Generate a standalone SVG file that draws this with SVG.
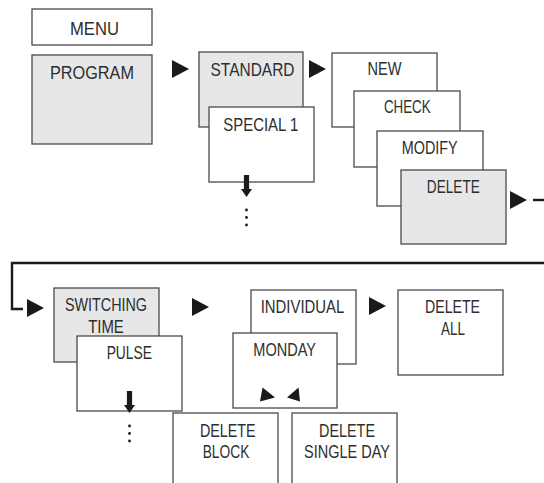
<svg xmlns="http://www.w3.org/2000/svg" width="544" height="483" viewBox="0 0 544 483">
<style>
.box{fill:#fff;stroke:#4a4a4a;stroke-width:1.3}
.grey{fill:#e6e7e8}
text{font-family:"Liberation Sans",Arial,sans-serif;font-size:17.5px;fill:#2e2e2e;text-anchor:middle}
.tri{fill:#1a1a1a}
.line{fill:none;stroke:#1a1a1a;stroke-width:2.4}
</style>
<defs>
<polygon id="tri" points="0,0 17,9 0,18" class="tri"/>
<g id="down"><rect x="-2.6" y="0" width="5.2" height="15" fill="#1a1a1a"/><polygon points="-5.5,14 5.5,14 0,22" fill="#1a1a1a"/></g>
<g id="dots" fill="#1a1a1a"><circle cx="0" cy="0" r="1.4"/><circle cx="0" cy="7.5" r="1.4"/><circle cx="0" cy="15" r="1.4"/></g>
</defs>
<g id="menu"><rect class="box" x="32" y="9" width="120" height="36"/><text x="94.5" y="35" textLength="49" lengthAdjust="spacingAndGlyphs">MENU</text></g>
<g id="program"><rect class="box grey" x="32" y="55" width="120" height="89"/><text x="92" y="79" textLength="84" lengthAdjust="spacingAndGlyphs">PROGRAM</text></g>
<g id="standard"><rect class="box grey" x="199" y="52" width="104" height="75"/><text x="252.5" y="75.5" textLength="84" lengthAdjust="spacingAndGlyphs">STANDARD</text></g>
<g id="special1"><rect class="box" x="209" y="107" width="105" height="75"/><text x="260.8" y="131" textLength="75" lengthAdjust="spacingAndGlyphs">SPECIAL 1</text></g>
<g id="new"><rect class="box" x="332" y="53" width="105" height="74"/><text x="384.5" y="75" textLength="34" lengthAdjust="spacingAndGlyphs">NEW</text></g>
<g id="check"><rect class="box" x="354" y="91" width="106" height="76"/><text x="407.3" y="113.3" textLength="46.7" lengthAdjust="spacingAndGlyphs">CHECK</text></g>
<g id="modify"><rect class="box" x="377" y="131" width="106" height="75"/><text x="429.7" y="154" textLength="56" lengthAdjust="spacingAndGlyphs">MODIFY</text></g>
<g id="delete"><rect class="box grey" x="401" y="170" width="105" height="74"/><text x="453.3" y="193.3" textLength="53" lengthAdjust="spacingAndGlyphs">DELETE</text></g>
<g id="switching"><rect class="box grey" x="54" y="288" width="105" height="74"/><text x="106" y="311" textLength="82" lengthAdjust="spacingAndGlyphs">SWITCHING</text><text x="106" y="332.7" textLength="35.7" lengthAdjust="spacingAndGlyphs">TIME</text></g>
<g id="pulse"><rect class="box" x="77" y="336" width="105" height="75"/><text x="129.3" y="359.3" textLength="45.3" lengthAdjust="spacingAndGlyphs">PULSE</text></g>
<g id="individual"><rect class="box" x="251" y="290" width="105" height="74"/><text x="302.5" y="313.3" textLength="83.7" lengthAdjust="spacingAndGlyphs">INDIVIDUAL</text></g>
<g id="monday"><rect class="box" x="233" y="333" width="104" height="75"/><text x="284.7" y="356" textLength="62.7" lengthAdjust="spacingAndGlyphs">MONDAY</text>
<polygon class="tri" points="262.5,387.5 275,397.5 260,401.5"/><polygon class="tri" points="298.5,387.5 287,397.5 300,401.5"/></g>
<g id="deleteall"><rect class="box" x="398" y="290" width="105" height="85"/><text x="452.5" y="313.3" textLength="55" lengthAdjust="spacingAndGlyphs">DELETE</text><text x="453" y="335" textLength="24" lengthAdjust="spacingAndGlyphs">ALL</text></g>
<g id="deleteblock"><rect class="box" x="173" y="413" width="105" height="80"/><text x="227.8" y="436.7" textLength="55.7" lengthAdjust="spacingAndGlyphs">DELETE</text><text x="226" y="458.3" textLength="46.7" lengthAdjust="spacingAndGlyphs">BLOCK</text></g>
<g id="deletesingleday"><rect class="box" x="292" y="413" width="105" height="80"/><text x="347" y="436.7" textLength="56" lengthAdjust="spacingAndGlyphs">DELETE</text><text x="347" y="458.3" textLength="86" lengthAdjust="spacingAndGlyphs">SINGLE DAY</text></g>
<g id="connectors">
<use href="#tri" x="172" y="60"/>
<use href="#tri" x="309" y="60"/>
<use href="#tri" x="510" y="191"/>
<line class="line" x1="533" y1="200" x2="544" y2="200"/>
<polyline class="line" points="544,263 12,263 12,309 23,309"/>
<use href="#tri" x="27" y="299"/>
<use href="#tri" x="192" y="298"/>
<use href="#tri" x="369" y="297"/>
<use href="#down" x="246.5" y="175"/>
<use href="#dots" x="246.5" y="210"/>
<use href="#down" x="129.5" y="391"/>
<use href="#dots" x="129.5" y="426"/>
</g>
</svg>
